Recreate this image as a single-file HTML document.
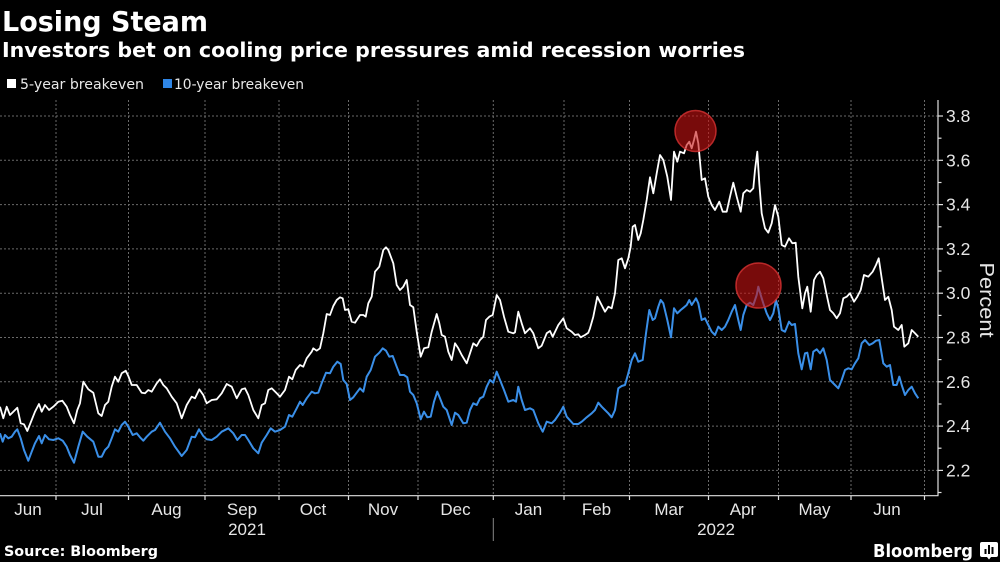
<!DOCTYPE html>
<html><head><meta charset="utf-8"><style>
html,body{margin:0;padding:0;background:#000;width:1000px;height:562px;overflow:hidden}
svg{display:block}
</style></head><body>
<svg width="1000" height="562" viewBox="0 0 1000 562" xmlns="http://www.w3.org/2000/svg">
<rect width="1000" height="562" fill="#000"/>
<text x="2" y="31" font-family="DejaVu Sans, sans-serif" font-weight="bold" font-size="28" fill="#fff" textLength="206" lengthAdjust="spacingAndGlyphs">Losing Steam</text>
<text x="2" y="57" font-family="DejaVu Sans, sans-serif" font-weight="bold" font-size="20" fill="#fff" textLength="743" lengthAdjust="spacingAndGlyphs">Investors bet on cooling price pressures amid recession worries</text>
<rect x="7" y="79" width="9" height="9" fill="#fff"/>
<text x="20" y="89" font-family="DejaVu Sans, sans-serif" font-size="14.5" fill="#e8e8e8" textLength="124" lengthAdjust="spacingAndGlyphs">5-year breakeven</text>
<rect x="163" y="79" width="9" height="9" fill="#2f86e6"/>
<text x="174" y="89" font-family="DejaVu Sans, sans-serif" font-size="14.5" fill="#e8e8e8" textLength="130" lengthAdjust="spacingAndGlyphs">10-year breakeven</text>
<g stroke="#6a6a6a" stroke-width="1" stroke-dasharray="2,2" fill="none">
<line x1="0" y1="116" x2="938" y2="116"/>
<line x1="0" y1="160.3" x2="938" y2="160.3"/>
<line x1="0" y1="204.6" x2="938" y2="204.6"/>
<line x1="0" y1="248.9" x2="938" y2="248.9"/>
<line x1="0" y1="293.2" x2="938" y2="293.2"/>
<line x1="0" y1="337.5" x2="938" y2="337.5"/>
<line x1="0" y1="381.8" x2="938" y2="381.8"/>
<line x1="0" y1="426.1" x2="938" y2="426.1"/>
<line x1="0" y1="470.4" x2="938" y2="470.4"/>
<line x1="56" y1="100" x2="56" y2="495"/>
<line x1="128.5" y1="100" x2="128.5" y2="495"/>
<line x1="205" y1="100" x2="205" y2="495"/>
<line x1="279" y1="100" x2="279" y2="495"/>
<line x1="348.5" y1="100" x2="348.5" y2="495"/>
<line x1="418" y1="100" x2="418" y2="495"/>
<line x1="493.3" y1="100" x2="493.3" y2="495"/>
<line x1="564" y1="100" x2="564" y2="495"/>
<line x1="629.5" y1="100" x2="629.5" y2="495"/>
<line x1="708.5" y1="100" x2="708.5" y2="495"/>
<line x1="778.5" y1="100" x2="778.5" y2="495"/>
<line x1="851" y1="100" x2="851" y2="495"/>
<line x1="924.5" y1="100" x2="924.5" y2="495"/>
</g>
<g stroke="#e0e0e0" stroke-width="1.2" fill="none">
<line x1="0" y1="495.7" x2="938.5" y2="495.7"/>
<line x1="938" y1="100" x2="938" y2="496"/>
<line x1="56" y1="496" x2="56" y2="500"/>
<line x1="128.5" y1="496" x2="128.5" y2="500"/>
<line x1="205" y1="496" x2="205" y2="500"/>
<line x1="279" y1="496" x2="279" y2="500"/>
<line x1="348.5" y1="496" x2="348.5" y2="500"/>
<line x1="418" y1="496" x2="418" y2="500"/>
<line x1="493.3" y1="496" x2="493.3" y2="500"/>
<line x1="564" y1="496" x2="564" y2="500"/>
<line x1="629.5" y1="496" x2="629.5" y2="500"/>
<line x1="708.5" y1="496" x2="708.5" y2="500"/>
<line x1="778.5" y1="496" x2="778.5" y2="500"/>
<line x1="851" y1="496" x2="851" y2="500"/>
<line x1="924.5" y1="496" x2="924.5" y2="500"/>
<line x1="938" y1="116" x2="943" y2="116"/>
<line x1="938" y1="138.2" x2="941.5" y2="138.2"/>
<line x1="938" y1="160.3" x2="943" y2="160.3"/>
<line x1="938" y1="182.5" x2="941.5" y2="182.5"/>
<line x1="938" y1="204.6" x2="943" y2="204.6"/>
<line x1="938" y1="226.8" x2="941.5" y2="226.8"/>
<line x1="938" y1="248.9" x2="943" y2="248.9"/>
<line x1="938" y1="271" x2="941.5" y2="271"/>
<line x1="938" y1="293.2" x2="943" y2="293.2"/>
<line x1="938" y1="315.4" x2="941.5" y2="315.4"/>
<line x1="938" y1="337.5" x2="943" y2="337.5"/>
<line x1="938" y1="359.6" x2="941.5" y2="359.6"/>
<line x1="938" y1="381.8" x2="943" y2="381.8"/>
<line x1="938" y1="404" x2="941.5" y2="404"/>
<line x1="938" y1="426.1" x2="943" y2="426.1"/>
<line x1="938" y1="448.2" x2="941.5" y2="448.2"/>
<line x1="938" y1="470.4" x2="943" y2="470.4"/>
<line x1="938" y1="492.5" x2="941.5" y2="492.5"/>
</g>
<line x1="493.3" y1="518" x2="493.3" y2="541" stroke="#888" stroke-width="1"/>
<g font-family="Liberation Sans, sans-serif" font-size="17.5" fill="#e6e6e6">
<text x="946" y="122">3.8</text>
<text x="946" y="166.3">3.6</text>
<text x="946" y="210.6">3.4</text>
<text x="946" y="254.9">3.2</text>
<text x="946" y="299.2">3.0</text>
<text x="946" y="343.5">2.8</text>
<text x="946" y="387.8">2.6</text>
<text x="946" y="432.1">2.4</text>
<text x="946" y="476.4">2.2</text>
</g>
<text transform="translate(980,300) rotate(90)" text-anchor="middle" font-family="Liberation Sans, sans-serif" font-size="20" fill="#e6e6e6" textLength="75" lengthAdjust="spacingAndGlyphs">Percent</text>
<g font-family="Liberation Sans, sans-serif" font-size="17" fill="#e6e6e6" text-anchor="middle">
<text x="28" y="515">Jun</text>
<text x="92" y="515">Jul</text>
<text x="166.5" y="515">Aug</text>
<text x="242" y="515">Sep</text>
<text x="313" y="515">Oct</text>
<text x="383" y="515">Nov</text>
<text x="455.5" y="515">Dec</text>
<text x="528.5" y="515">Jan</text>
<text x="596.5" y="515">Feb</text>
<text x="669" y="515">Mar</text>
<text x="743" y="515">Apr</text>
<text x="814.5" y="515">May</text>
<text x="887" y="515">Jun</text>
<text x="247" y="535">2021</text>
<text x="716" y="535">2022</text>
</g>
<text x="4" y="556" font-family="DejaVu Sans, sans-serif" font-weight="bold" font-size="14" fill="#fff" textLength="154" lengthAdjust="spacingAndGlyphs">Source: Bloomberg</text>
<text x="873" y="557" font-family="DejaVu Sans, sans-serif" font-weight="bold" font-size="18" fill="#fff" textLength="100" lengthAdjust="spacingAndGlyphs">Bloomberg</text>
<g>
<path d="M982,542 h14 a2,2 0 0 1 2,2 v11 a2,2 0 0 1 -2,2 h-5 l-2,2.5 l-2,-2.5 h-5 a2,2 0 0 1 -2,-2 v-11 a2,2 0 0 1 2,-2 z" fill="#fff"/>
<rect x="984.5" y="549" width="2" height="5" fill="#000"/>
<rect x="988" y="545" width="2" height="9" fill="#000"/>
<rect x="991.5" y="547" width="2" height="7" fill="#000"/>
</g>
<polyline fill="none" stroke="#3a8fe8" stroke-width="2" stroke-linejoin="round" points="0,433.3 2.7,441.7 5,435 8.3,438.3 11.7,436.7 15,431.7 17.3,429.3 20.7,438.3 24,450 28.3,460.7 31.7,451.7 35,443.3 39,436 41.7,443.3 45,435 49,439.3 53.3,440 58.3,438.3 62.7,440.7 66.7,446.7 70,455 74,462.7 78.3,446.7 82.7,431.7 87.3,436.7 93.3,441.7 98.3,456.7 101.7,456.7 105,450 108.3,446.7 111.7,438.3 115,429.3 118.3,431.7 121.7,425 125,421.7 128.3,426.7 132.7,435 136.7,433.3 140,437.3 143.3,440.7 146.7,436.7 151.7,431.7 155,430 160,422.7 165,431.7 170,438.3 175,446.7 181.7,456 186.7,450 191.7,436.7 195,437.3 199,429.3 203.3,436 206.7,439.3 211.7,440 216.7,436.7 221.7,431.7 228.3,428.3 233.3,433.3 237.3,440 241.7,435 245,435 248.3,440 253.3,448.3 258.3,453.3 261.7,442.7 266.7,435 270.7,428.3 275,431.7 280,430 285,426.7 289,415 292.3,416.7 296.7,408.3 300,401.7 302.7,405 306.7,398.3 311.7,391.7 315,393.3 318.3,392.7 321.7,383.3 326,372.7 330,373.3 333.3,366.7 337.3,361.7 340.7,364 343.3,380 346.7,384 350,400 353.3,397.3 356.7,392.7 360,388.3 363.3,391.7 366.7,376.7 370.7,370 375,356.7 379.3,352.7 382.7,348.3 386,350.7 389.3,356.7 392.7,356 396.7,366.7 400,375 404,375 407.3,377.3 410,391.7 413.3,395 416.7,403.3 420.7,419.3 424,411.7 427.3,417.3 430.7,416.7 434,401.7 437.3,391.7 440,398.3 443.3,406.7 446.7,410 451.7,425 455,412.7 458.3,415 463.3,423.3 466.7,422.7 470,410 473.3,403.3 476.7,405 480,398.3 483.3,396.7 486.7,386.7 490,380 493.3,382.7 496.7,371.7 500,380 504,390 508.3,401.7 513.3,400 516,401.7 518.3,386.7 521.7,400 525,410 530,408.3 533.3,410 538.3,423.3 542.7,431.7 546.7,421.7 551.7,423.3 555,420 560,412.7 563.3,406.7 566.7,416.7 573.3,424 578.3,424 581.7,421.7 586.7,417.3 591.7,413.3 595,410 598.3,402.7 601.7,406.7 605,410 608.3,413.3 611.7,417.3 615,410 618.3,388.3 621.7,386 625,385 628.3,373.3 631.7,360 635,353.3 638.3,361.7 642.7,360 646,333.3 649.3,310 652.7,320 655,318.3 658.3,306.7 660.7,300 663.3,303.3 667.3,320 671,337.3 674,308.3 677.3,313.3 680.7,310 684,307.3 686.7,305 689.3,300 691.7,305 696,298.3 698.3,303.3 701.7,320 705,318.3 708.3,325 711.7,331.7 715,335 718.3,326.7 721.7,330 725,326.7 728.3,320 731.7,311.7 735,305 738.3,320 740.7,330 743.3,315 746.7,305 750,302.7 753.3,305 756.7,295 758.3,286.7 760.7,295 763.3,303.3 766.7,313.3 770,320 773.3,313.3 776,300 778.3,308.3 781.7,330 785,331.7 789,321.7 791.7,325 795,324 798.3,353.3 801.7,369.3 805,353.3 807.3,352.7 810.7,369.3 813.3,351.7 816.7,349.3 820,353.3 823.3,348.3 826.7,360 830,380 835,385 838.3,388.3 841.7,380 845,370 848.3,368.3 851.7,369.3 855,363.3 858.3,358.3 861.7,343.3 865,340 869.3,345 872.7,343.3 876,340.7 879.3,340 883.3,363.3 886.7,366.7 890,365 893.3,385 896.7,385 899.3,376.7 901.7,385 905,395 908.3,390 911.7,386.7 915,393.3 918.3,398.3"/>
<polyline fill="none" stroke="#ffffff" stroke-width="1.8" stroke-linejoin="round" points="0,406.7 3.3,418.3 6.7,406.7 10,415 13.3,411.7 17.3,407.7 20.7,423.3 24,424.3 27.3,431 31.7,420 35,411.7 39,404 41.7,411.7 45,405 49,410 53.3,406.7 58.3,401.7 62.3,400.7 66.7,406.7 70,415 74,423.3 77.3,410 80,403.3 83.3,381.7 88.3,389.3 93.3,392.7 98.3,413.3 101.7,416 105,405 108.3,401.7 111.7,386.7 115,376.7 118.3,381.7 121.7,373.3 125.7,370.7 128.3,376 131.7,385 136.7,385 141.7,392.7 145,393.3 148.3,390 151.7,391.7 156.7,383.3 160,379.3 163.3,385 166.7,388.3 171.7,396.7 176.7,403.3 181.7,418.3 186.7,405 191.7,396.7 195,398.3 199.3,389.3 203.3,395 206.7,403.3 211.7,400 216.7,399.3 221.7,393.3 226.7,384 231.7,386.7 236.7,398.3 241.7,389.3 245,388.3 248.3,395 253.3,410 258.3,418.3 261.7,405 265,403.3 268.3,390 271.7,388.3 276.7,393.3 280,396.7 285,390 289,376.7 292.3,379.3 295.7,370 300,365 303.3,366.7 306.7,358.3 311.7,351.7 313.3,348.3 316.7,350.7 320,348.3 323.3,333.3 326.7,314 330,315 333.3,306 336.7,300 340,297.3 342.7,298.3 345,310 348.3,309.3 351.7,321.7 355,322.7 360,315 363.3,315 365.7,316.7 368.3,303.3 371.7,296.7 375,271.7 379.3,266.7 383.3,250 386,247.3 388.3,250 393.3,263.3 396.7,285 400,290 403.3,286.7 406.7,280 410,305 413.3,307.3 416.7,331.7 420.7,356.7 424,348.3 428.3,347.3 431.7,331.7 436.7,314 439.3,323.3 441.7,335 445,336.7 448.3,351.7 451.7,360 455,343.3 458.3,348.3 461.7,355 466.7,363.3 470,353.3 473.3,343.3 476.7,346 480,340 483.3,336.7 486,320 489.3,316.7 492.7,315 496.7,295 500,300 504,316.7 508.3,331.7 513.3,333.3 515,332.3 518.3,311.7 521.7,323.3 525,333.3 530,328.3 533.3,333.3 538.3,348.3 541.7,345.7 546.7,333.3 550,331 552.7,336.7 558.3,325 563.3,318.3 566.7,328.3 571.7,331.7 575,335 578.3,334.3 580.7,337.3 585,335 588.3,332.7 590,328.3 593.3,316.7 597.3,296.7 600.7,303.3 605,311.7 608.3,306.7 611.7,308.3 615,293.3 618.3,260 621.7,258.3 625,268.3 628.3,258.3 630.7,246.7 632.7,226.7 635,225 638.3,240 640.7,233.3 643.3,220 646.7,200 650,177.3 653.3,193.3 656.7,173.3 660,155 663.3,160 667.3,176.7 671,200 674,151.7 677.3,161.7 680,151.7 684,153.3 686.7,145 689.3,141.7 691.7,148.3 694,140 696,131.7 698.3,143.3 701.7,180 705,178.3 708.3,196.7 711.7,205 715,210 719.3,201.7 722.7,211.7 726.7,211.7 730,196.7 733.3,182.7 736.7,196.7 740.7,211.7 743.3,193.3 746.7,190 750,191.7 753.3,188.3 755,170 757.3,151.7 759.3,183.3 761.7,213.3 765,228.3 768.3,232.7 771.7,223.3 775,205 778.3,216.7 781.7,245 785,246.7 789,238.3 792.3,243.3 795.7,242.7 798.3,276.7 802.3,308.3 805,293.3 807.3,286.7 810.7,311.7 814,280 816.7,275 820,271.7 823.3,278.3 826.7,295 830,310 833.3,313.3 836.7,318.3 840,313.3 843.3,298.3 846.7,296.7 850,293.3 854,301.7 857.3,296.7 860.7,290 864,275 868.3,276.7 872.7,271.7 876,265 878.7,258.3 881.7,278.3 885,300 888.3,296.7 891.7,310 894,326.7 898.3,330 901.7,325 904.3,346.7 908.3,343.3 911.7,330 915,333.3 918.3,336.7"/>
<circle cx="695.5" cy="131" r="20.5" fill="rgb(200,18,18)" fill-opacity="0.6" stroke="rgb(215,50,50)" stroke-opacity="0.8" stroke-width="1.5"/>
<circle cx="758.5" cy="285.5" r="22.5" fill="rgb(200,18,18)" fill-opacity="0.6" stroke="rgb(215,50,50)" stroke-opacity="0.8" stroke-width="1.5"/>
</svg>
</body></html>
